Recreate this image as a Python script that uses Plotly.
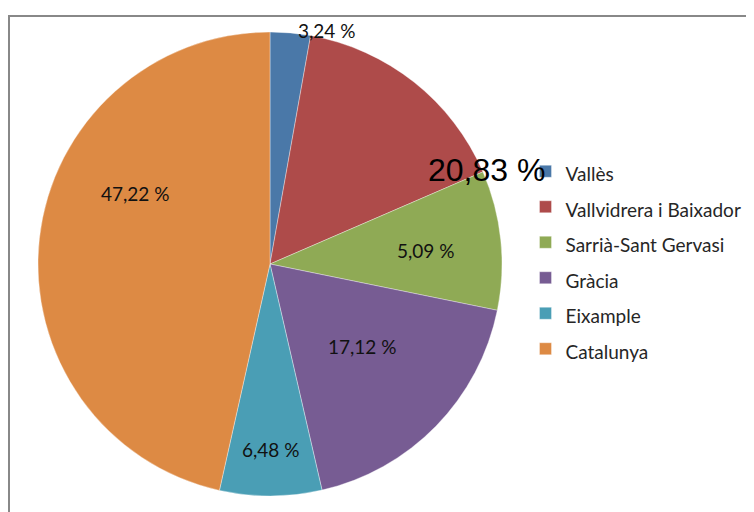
import plotly.graph_objects as go

# ---- data ----
categories = ["Vallès", "Vallvidrera i Baixador", "Sarrià-Sant Gervasi", "Gràcia", "Eixample", "Catalunya"]
slice_shares = [2.8, 15.7, 9.7, 18.2, 7.1, 46.5]          # slice sizes as drawn
label_texts = ["3,24 %", "20,83 %", "5,09 %", "17,12 %", "6,48 %", "47,22 %"]  # printed labels

colors = ["#4A78A8", "#AE4B4A", "#8FAA55", "#775C93", "#4A9EB5", "#DD8A44"]

OFF = 8                    # page body margin in the browser
W, H = 754 - OFF, 512 - OFF
cx, cy, r = 270 - OFF, 264 - OFF, 232

# legend labels: smaller rendered text, larger legend font => taller rows
legend_labels = ["<span style='font-size:19px'>%s</span>" % c for c in categories]

fig = go.Figure(go.Pie(
    labels=legend_labels,
    values=slice_shares,
    sort=False,
    direction="clockwise",
    rotation=0,
    marker=dict(colors=colors, line=dict(color="rgba(255,255,255,0.6)", width=0.6)),
    textinfo="none",
    hoverinfo="percent",
    domain=dict(x=[(cx - r) / W, (cx + r) / W], y=[1 - (cy + r) / H, 1 - (cy - r) / H]),
))

# label placement (reference pixel positions of label centres)
label_pos = [(326, 31), (486, 170), (425, 250), (362, 346), (270, 449), (135, 193)]
label_size = [19, 32, 19, 19, 19, 19]
label_font = ["Lato", "Liberation Sans", "Lato", "Lato", "Lato", "Lato"]
annotations = []
for txt, (px, py), sz, fam in zip(label_texts, label_pos, label_size, label_font):
    annotations.append(dict(
        x=(px - OFF) / W, y=1 - (py - OFF) / H, xref="paper", yref="paper",
        text=txt, showarrow=False, xanchor="center", yanchor="middle",
        font=dict(family=fam, size=sz, color="#111111" if sz < 25 else "#000000"),
    ))

fig.update_layout(
    width=W, height=H,
    margin=dict(l=0, r=0, t=0, b=0),
    paper_bgcolor="white",
    plot_bgcolor="white",
    showlegend=True,
    legend=dict(
        x=517.5 / W, y=1 - 140.5 / H, xanchor="left", yanchor="top",
        font=dict(family="Lato", size=25, color="#262626"),
        bgcolor="rgba(0,0,0,0)", traceorder="normal",
    ),
    annotations=annotations,
    shapes=[dict(type="rect", xref="paper", yref="paper",
                 x0=1 / W, x1=(W + 20) / W, y0=-20 / H, y1=1 - 8 / H,
                 line=dict(color="#888888", width=2), fillcolor="rgba(0,0,0,0)", layer="below")],
)

fig.write_html("out.html")
